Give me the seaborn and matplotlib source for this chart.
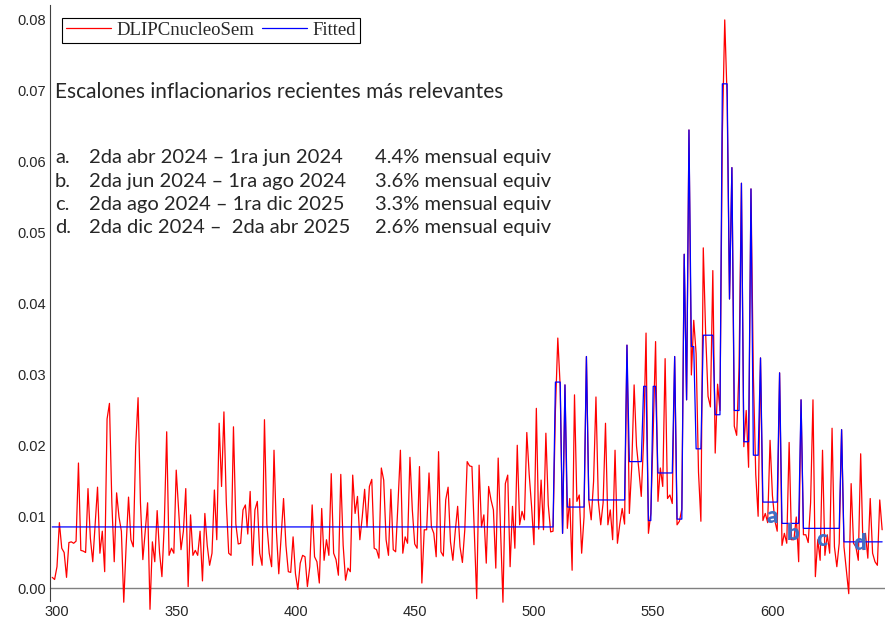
import numpy as np
import pandas as pd
import matplotlib
matplotlib.use("Agg")
import matplotlib.pyplot as plt
import seaborn as sns
from matplotlib.ticker import MultipleLocator, FormatStrFormatter

# observations 298..646
obs_start = 298
dlipc = [
    0.0015, 0.0012, 0.003, 0.0092, 0.0056, 0.005, 0.0015, 0.0064, 0.0065, 0.0063,
    0.0066, 0.0176, 0.0053, 0.0052, 0.005, 0.014, 0.007, 0.0037, 0.009, 0.0142,
    0.0049, 0.008, 0.0023, 0.0238, 0.026, 0.012, 0.0037, 0.0134, 0.010, 0.008,
    -0.002, 0.006, 0.0128, 0.0068, 0.0058, 0.020, 0.0268, 0.012, 0.004, 0.008,
    0.012, -0.003, 0.0065, 0.0037, 0.0109, 0.005, 0.0016, 0.009, 0.022, 0.0046,
    0.0056, 0.0049, 0.0166, 0.011, 0.0054, 0.008, 0.014, 0.0002, 0.0103, 0.0046,
    0.0053, 0.0046, 0.008, 0.001, 0.0105, 0.006, 0.0032, 0.0049, 0.0138, 0.0068,
    0.0232, 0.0143, 0.0248, 0.012, 0.0049, 0.0046, 0.0227, 0.009, 0.0062, 0.0063,
    0.011, 0.0117, 0.0076, 0.0136, 0.0032, 0.011, 0.0122, 0.0049, 0.0032, 0.0237,
    0.009, 0.0049, 0.003, 0.0194, 0.008, 0.002, 0.0072, 0.0126, 0.006, 0.0023,
    0.0022, 0.0072, 0.002, -0.0002, 0.0035, 0.0046, 0.0044, 0.0002, 0.003, 0.0117,
    0.0044, 0.0037, 0.0007, 0.0112, 0.0039, 0.0068, 0.0046, 0.0161, 0.0049, 0.004,
    0.0018, 0.016, 0.006, 0.0011, 0.0028, 0.0023, 0.0159, 0.0105, 0.0129, 0.0068,
    0.010, 0.0139, 0.0086, 0.0143, 0.0153, 0.0056, 0.0054, 0.0042, 0.0169, 0.0152,
    0.0068, 0.0046, 0.0139, 0.0054, 0.0051, 0.012, 0.0194, 0.0049, 0.0072, 0.0063,
    0.0184, 0.011, 0.0062, 0.0056, 0.0171, 0.0007, 0.0082, 0.0082, 0.0162, 0.0086,
    0.0077, 0.0044, 0.0192, 0.0051, 0.0045, 0.0124, 0.0142, 0.0065, 0.0039, 0.008,
    0.0115, 0.0058, 0.0036, 0.0082, 0.0178, 0.0172, 0.0171, 0.008, -0.0015, 0.0173,
    0.0086, 0.0103, 0.0035, 0.0143, 0.0124, 0.011, 0.0028, 0.0183, 0.008, -0.002,
    0.0147, 0.0159, 0.003, 0.0115, 0.0056, 0.0201, 0.0089, 0.0108, 0.0096, 0.0219,
    0.016, 0.0115, 0.0061, 0.0253, 0.0083, 0.0152, 0.0082, 0.0218, 0.0117, 0.0079,
    0.008, 0.025, 0.0352, 0.0284, 0.0077, 0.0286, 0.0084, 0.0126, 0.0025, 0.0272,
    0.0122, 0.0131, 0.0049, 0.010, 0.0326, 0.0124, 0.0096, 0.015, 0.0269, 0.0122,
    0.0089, 0.012, 0.0232, 0.0089, 0.011, 0.0068, 0.0194, 0.0063, 0.009, 0.0112,
    0.009, 0.0342, 0.0105, 0.0171, 0.0286, 0.020, 0.0166, 0.0129, 0.021, 0.0359,
    0.0077, 0.0105, 0.022, 0.0347, 0.0122, 0.0169, 0.0143, 0.0323, 0.0126, 0.0131,
    0.0119, 0.0326, 0.0089, 0.0094, 0.0111, 0.047, 0.0265, 0.0645, 0.030, 0.0377,
    0.033, 0.0163, 0.0094, 0.0479, 0.0358, 0.027, 0.0255, 0.0447, 0.019, 0.0287,
    0.025, 0.064, 0.080, 0.069, 0.0407, 0.0592, 0.0228, 0.0215, 0.031, 0.057,
    0.0199, 0.025, 0.017, 0.0562, 0.030, 0.016, 0.0101, 0.0324, 0.0095, 0.0105,
    0.0092, 0.0208, 0.013, 0.0095, 0.008, 0.0303, 0.006, 0.0077, 0.0063, 0.0205,
    0.0068, 0.0068, 0.010, 0.0037, 0.0265, 0.0075, 0.0075, 0.0064, 0.012, 0.0265,
    0.0016, 0.0068, 0.0039, 0.0194, 0.0046, 0.0075, 0.0049, 0.0225, 0.0058, 0.003,
    0.0063, 0.0223, 0.0058, 0.0025, -0.0008, 0.0147, 0.0063, 0.0058, 0.0039, 0.0189,
    0.0054, 0.0077, 0.0042, 0.0126, 0.0049, 0.0037, 0.0032, 0.0124, 0.0082,
]

# fitted step model: level and number of observations of each segment
fit_levels = [0.0086, 0.029, 0.0077, 0.0286, 0.0114, 0.0326, 0.0124, 0.0342, 0.0178, 0.0284,
              0.0095, 0.0284, 0.0162, 0.0326, 0.0097, 0.047, 0.0265, 0.0645, 0.034, 0.0196,
              0.0356, 0.0244, 0.071, 0.0407, 0.0592, 0.025, 0.057, 0.0206, 0.0562, 0.0187,
              0.0324, 0.0121, 0.0303, 0.0091, 0.0265, 0.0084, 0.0223, 0.0065]
fit_lengths = [211, 3, 1, 1, 8, 1, 16, 1, 6, 2,
               2, 2, 7, 1, 3, 1, 1, 1, 2, 3,
               5, 3, 3, 1, 1, 3, 1, 3, 1, 3,
               1, 7, 1, 8, 1, 16, 1, 17]

title_text = "Escalones inflacionarios recientes más relevantes"
row_letters = ["a.", "b.", "c.", "d."]
row_ranges = ["2da abr 2024 – 1ra jun 2024", "2da jun 2024 – 1ra ago 2024",
              "2da ago 2024 – 1ra dic 2025", "2da dic 2024 –  2da abr 2025"]
row_rates = ["4.4% mensual equiv", "3.6% mensual equiv",
             "3.3% mensual equiv", "2.6% mensual equiv"]
step_marks = ["a", "b", "c", "d"]
step_mark_x = [600, 608.6, 620.8, 636.7]
step_mark_y = [0.0101, 0.0077, 0.0068, 0.0063]

df = pd.DataFrame({
    "obs": np.arange(obs_start, obs_start + len(dlipc)),
    "DLIPCnucleoSem": dlipc,
    "Fitted": np.repeat(fit_levels, fit_lengths),
})

sns.set_style("white")
plt.rcParams["font.family"] = ["Liberation Sans", "DejaVu Sans"]

fig = plt.figure(figsize=(8.85, 6.42), dpi=100)
ax = fig.add_axes([50 / 885, 41 / 642, 835 / 885, 596 / 642])

ax.axhline(0, color="#808080", lw=1, zorder=1)
sns.lineplot(data=df, x="obs", y="DLIPCnucleoSem", color="#ff0000", lw=0.9,
             ax=ax, label="DLIPCnucleoSem", zorder=2)
sns.lineplot(data=df, x="obs", y="Fitted", color="#0000ff", lw=0.9,
             ax=ax, label="Fitted", zorder=3)
for line in ax.lines:
    line.set_clip_on(False)

ax.set_xlim(297.07, 647.2)
ax.set_ylim(-0.00183, 0.0821)
ax.xaxis.set_major_locator(MultipleLocator(50))
ax.yaxis.set_major_locator(MultipleLocator(0.01))
ax.yaxis.set_minor_locator(MultipleLocator(0.002))
ax.yaxis.set_major_formatter(FormatStrFormatter("%.2f"))
ax.tick_params(axis="y", which="major", direction="in", length=5, width=0.8,
               labelsize=10.5, color="#404040", pad=3)
ax.tick_params(axis="y", which="minor", direction="in", length=3, width=0.6,
               color="#404040")
ax.tick_params(axis="x", which="both", length=0, pad=3, labelsize=10.5)
ax.set_xlabel("")
ax.set_ylabel("")
for side in ["top", "right", "bottom"]:
    ax.spines[side].set_visible(False)
ax.spines["left"].set_color("#404040")
ax.spines["left"].set_linewidth(0.8)

leg = ax.legend(loc="upper left", bbox_to_anchor=(0.0144, 0.978), ncol=2,
                frameon=True, fancybox=False, edgecolor="black", framealpha=1,
                handlelength=2.4, handletextpad=0.3, columnspacing=0.4,
                borderpad=0.2, borderaxespad=0,
                prop={"family": "Liberation Serif", "size": 13.5})
leg.get_frame().set_linewidth(0.8)

ax.text(299.2, 0.0699, title_text, va="center", ha="left", family="Lato", size=15)
row_y = [0.0606, 0.0573, 0.0540, 0.0508]
for letter, rng, rate, yy in zip(row_letters, row_ranges, row_rates, row_y):
    ax.text(299.2, yy, letter, va="center", ha="left", family="Lato", size=14.5)
    ax.text(313.5, yy, rng, va="center", ha="left", family="Lato", size=14.5)
    ax.text(433.3, yy, rate, va="center", ha="left", family="Lato", size=14.5)

for m, mx, my in zip(step_marks, step_mark_x, step_mark_y):
    ax.text(mx, my, m, color="#3F6FC6", fontweight="heavy", fontsize=16,
            ha="center", va="center", family="Lato", zorder=10)

fig.savefig("out.png", dpi=100)
